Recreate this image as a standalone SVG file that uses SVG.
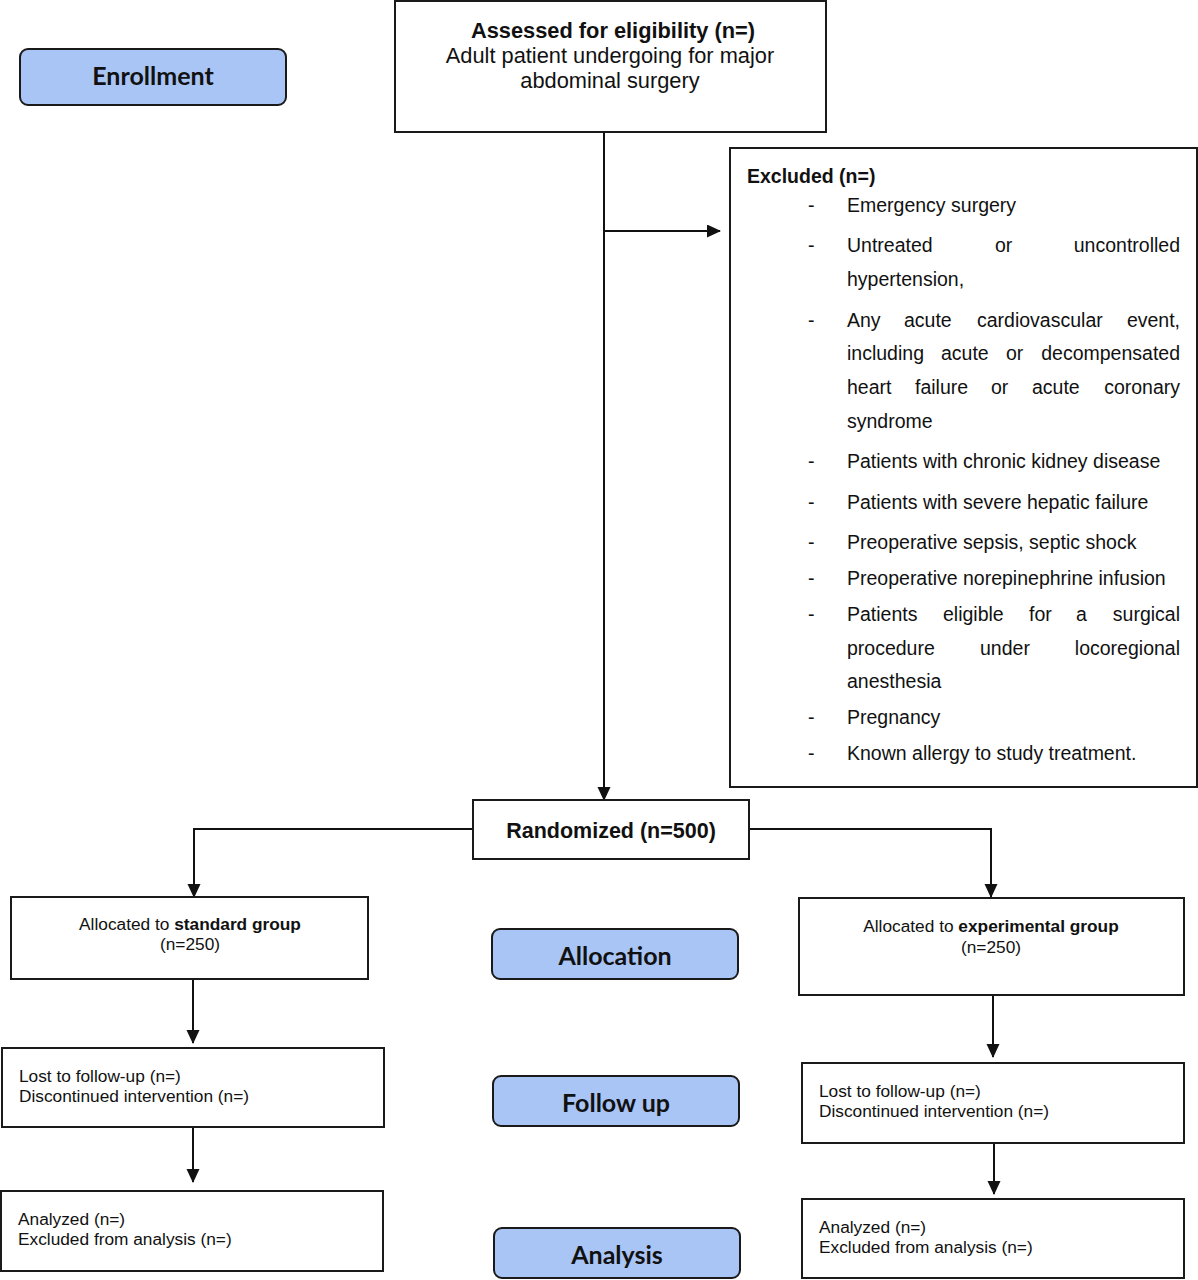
<svg xmlns="http://www.w3.org/2000/svg" width="1198" height="1280" viewBox="0 0 1198 1280">
<defs>
<marker id="arr" markerUnits="userSpaceOnUse" markerWidth="15" markerHeight="14" refX="13" refY="6.5" orient="auto">
<path d="M0,0 L14,6.5 L0,13 Z" fill="#111"/>
</marker>
<style>
.box{fill:#fff;stroke:#1a1a1a;stroke-width:2}
.lbl{fill:#a9c5f6;stroke:#1a1a1a;stroke-width:2}
.lt{font-family:Lato,"Open Sans",sans-serif;font-weight:bold;font-size:25px;fill:#111;text-anchor:middle}
.t{font-family:"Liberation Sans",Arial,sans-serif;fill:#111}
.b{font-weight:bold}
.c{text-anchor:middle}
.ex{font-size:19.5px}
.sm{font-size:17.3px}
.con{fill:none;stroke:#111;stroke-width:2}
</style>
</defs>
<rect width="1198" height="1280" fill="#fff"/>

<g id="enrollment">
<rect class="lbl" x="20" y="49" width="266" height="56" rx="8"/>
<text class="lt" x="153" y="85">Enrollment</text>
</g>
<g id="allocation">
<rect class="lbl" x="492" y="929" width="246" height="50" rx="8"/>
<text class="lt" x="615" y="965">Allocation</text>
</g>
<g id="followup">
<rect class="lbl" x="493" y="1076" width="246" height="50" rx="8"/>
<text class="lt" x="616" y="1112">Follow up</text>
</g>
<g id="analysis">
<rect class="lbl" x="494" y="1228" width="246" height="50" rx="8"/>
<text class="lt" x="617" y="1264">Analysis</text>
</g>

<g id="connectors">
<line class="con" x1="604" y1="132" x2="604" y2="800" marker-end="url(#arr)"/>
<line class="con" x1="604" y1="231" x2="720" y2="231" marker-end="url(#arr)"/>
<polyline class="con" points="473,829 194,829 194,897" marker-end="url(#arr)"/>
<polyline class="con" points="749,829 991,829 991,897" marker-end="url(#arr)"/>
<line class="con" x1="193" y1="979" x2="193" y2="1043" marker-end="url(#arr)"/>
<line class="con" x1="193" y1="1127" x2="193" y2="1182" marker-end="url(#arr)"/>
<line class="con" x1="993" y1="995" x2="993" y2="1057" marker-end="url(#arr)"/>
<line class="con" x1="994" y1="1144" x2="994" y2="1194" marker-end="url(#arr)"/>
</g>

<g id="assessed">
<rect class="box" x="395" y="1" width="431" height="131"/>
<text class="t c b" x="613" y="38" font-size="21.8">Assessed for eligibility (n=)</text>
<text class="t c" x="610" y="63" font-size="21.8">Adult patient undergoing for major</text>
<text class="t c" x="610" y="88" font-size="21.8">abdominal surgery</text>
</g>

<g id="excluded">
<rect class="box" x="730" y="148" width="467" height="639"/>
<text class="t b ex" x="747" y="183">Excluded (n=)</text>
<g class="t ex">
<text x="808" y="212">-</text><text x="847" y="212">Emergency surgery</text>
<text x="808" y="252">-</text><text x="847" y="252">Untreated</text><text x="995" y="252">or</text><text x="1180" y="252" text-anchor="end">uncontrolled</text>
<text x="847" y="286">hypertension,</text>
<text x="808" y="327">-</text><text x="847" y="327">Any</text><text x="904" y="327">acute</text><text x="977" y="327">cardiovascular</text><text x="1180" y="327" text-anchor="end">event,</text>
<text x="847" y="360">including</text><text x="941" y="360">acute</text><text x="1006" y="360">or</text><text x="1180" y="360" text-anchor="end">decompensated</text>
<text x="847" y="394">heart</text><text x="915" y="394">failure</text><text x="991" y="394">or</text><text x="1032" y="394">acute</text><text x="1180" y="394" text-anchor="end">coronary</text>
<text x="847" y="428">syndrome</text>
<text x="808" y="468">-</text><text x="847" y="468">Patients with chronic kidney disease</text>
<text x="808" y="509">-</text><text x="847" y="509">Patients with severe hepatic failure</text>
<text x="808" y="549">-</text><text x="847" y="549">Preoperative sepsis, septic shock</text>
<text x="808" y="585">-</text><text x="847" y="585">Preoperative norepinephrine infusion</text>
<text x="808" y="621">-</text><text x="847" y="621">Patients</text><text x="943" y="621">eligible</text><text x="1029" y="621">for</text><text x="1076" y="621">a</text><text x="1180" y="621" text-anchor="end">surgical</text>
<text x="847" y="655">procedure</text><text x="980" y="655">under</text><text x="1180" y="655" text-anchor="end">locoregional</text>
<text x="847" y="688">anesthesia</text>
<text x="808" y="724">-</text><text x="847" y="724">Pregnancy</text>
<text x="808" y="760">-</text><text x="847" y="760">Known allergy to study treatment.</text>
</g>
</g>

<g id="randomized">
<rect class="box" x="473" y="800" width="276" height="59"/>
<text class="t c b" x="611" y="838" font-size="21.5">Randomized (n=500)</text>
</g>

<g id="standard">
<rect class="box" x="11" y="897" width="357" height="82"/>
<text class="t c sm" x="190" y="930">Allocated to <tspan class="b">standard group</tspan></text>
<text class="t c sm" x="190" y="950">(n=250)</text>
</g>

<g id="experimental">
<rect class="box" x="799" y="898" width="385" height="97"/>
<text class="t c sm" x="991" y="932">Allocated to <tspan class="b">experimental group</tspan></text>
<text class="t c sm" x="991" y="953">(n=250)</text>
</g>

<g id="lost-std">
<rect class="box" x="2" y="1048" width="382" height="79"/>
<text class="t sm" x="19" y="1082">Lost to follow-up (n=)</text>
<text class="t sm" x="19" y="1102">Discontinued intervention (n=)</text>
</g>

<g id="lost-exp">
<rect class="box" x="802" y="1063" width="382" height="80"/>
<text class="t sm" x="819" y="1097">Lost to follow-up (n=)</text>
<text class="t sm" x="819" y="1117">Discontinued intervention (n=)</text>
</g>

<g id="analyzed-std">
<rect class="box" x="1" y="1191" width="382" height="80"/>
<text class="t sm" x="18" y="1225">Analyzed (n=)</text>
<text class="t sm" x="18" y="1245">Excluded from analysis (n=)</text>
</g>

<g id="analyzed-exp">
<rect class="box" x="802" y="1199" width="382" height="79"/>
<text class="t sm" x="819" y="1233">Analyzed (n=)</text>
<text class="t sm" x="819" y="1253">Excluded from analysis (n=)</text>
</g>
</svg>
